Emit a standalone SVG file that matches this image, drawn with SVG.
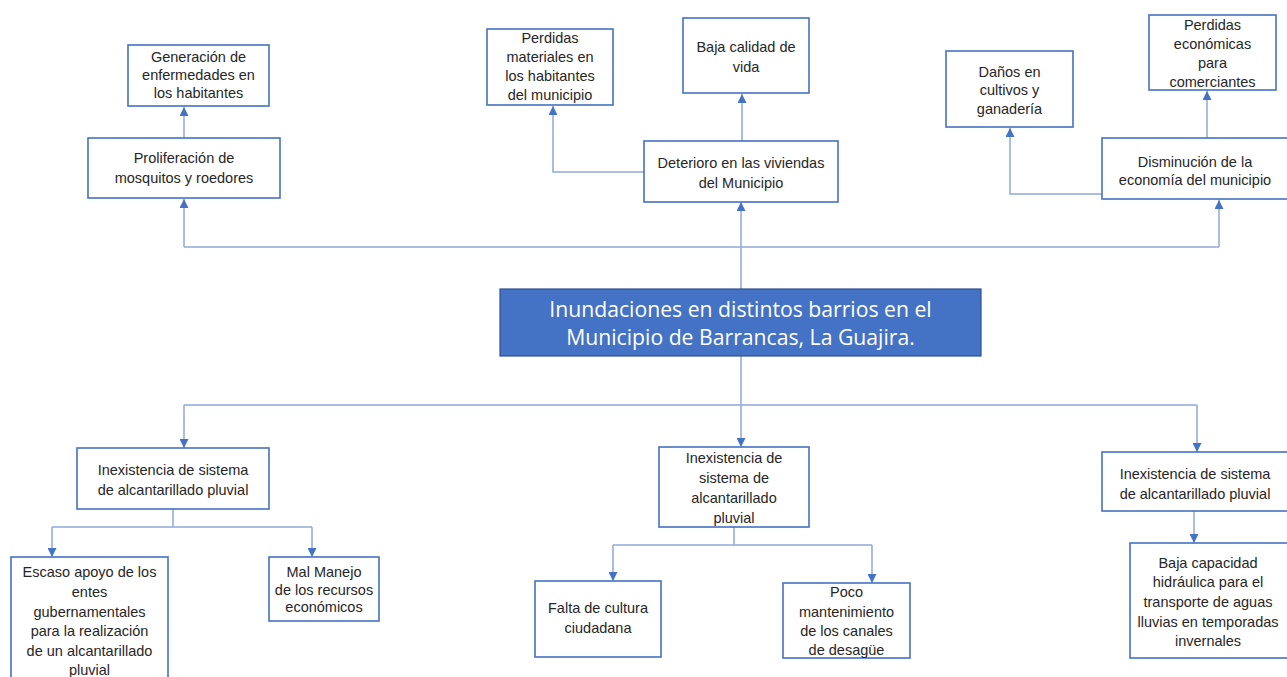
<svg xmlns="http://www.w3.org/2000/svg" width="1287" height="677" viewBox="0 0 1287 677">
<defs>
<marker id="ah" viewBox="0 0 10 10" refX="10" refY="5" markerWidth="9" markerHeight="9" markerUnits="userSpaceOnUse" orient="auto">
<path d="M0,0 L10,5 L0,10 z" fill="#4472C4"/>
</marker>
<style>
.box{fill:#fff;stroke:#4472C4;stroke-width:1.6}
.main{fill:#4472C4;stroke:#2F528F;stroke-width:1.2}
.t{font-family:"Liberation Sans",Arial,sans-serif;font-size:14.5px;fill:#262626;text-anchor:middle}
.tm{font-family:"Open Sans","Liberation Sans",sans-serif;font-size:21.2px;fill:#fff;text-anchor:middle}
.c{fill:none;stroke:#8EA9DB;stroke-width:1.5}
.a{fill:none;stroke:#8EA9DB;stroke-width:1.5;marker-end:url(#ah)}
</style>
</defs>
<rect width="1287" height="677" fill="#fff"/>
<g id="connectors">
<path class="a" d="M741,289 V202"/>
<path class="c" d="M184,247 H1219"/>
<path class="a" d="M184,247 V199"/>
<path class="a" d="M1219,247 V200"/>
<path class="a" d="M184,138 V107"/>
<path class="a" d="M644,172 H553 V106"/>
<path class="a" d="M742,141 V94"/>
<path class="a" d="M1102,194 H1010 V128"/>
<path class="a" d="M1207,138 V91"/>
<path class="a" d="M741,356 V447"/>
<path class="c" d="M184,405 H1197"/>
<path class="a" d="M184,405 V448"/>
<path class="a" d="M1197,405 V452"/>
<path class="c" d="M173,509 V527 M52,527 H312"/>
<path class="a" d="M52,527 V557"/>
<path class="a" d="M312,527 V557"/>
<path class="c" d="M734,527 V545 M613,545 H872"/>
<path class="a" d="M613,545 V581"/>
<path class="a" d="M872,545 V583"/>
<path class="a" d="M1194,511 V543"/>
</g>
<g id="n-main">
<rect class="main" x="500" y="289" width="481" height="67"/>
<text class="tm" x="740.5" y="317">Inundaciones en distintos barrios en el</text>
<text class="tm" x="740.5" y="345">Municipio de Barrancas, La Guajira.</text>
</g>
<g id="n-generacion">
<rect class="box" x="128" y="45" width="141" height="61"/>
<text class="t" x="198.5" y="62">Generación de</text>
<text class="t" x="198.5" y="80">enfermedades en</text>
<text class="t" x="198.5" y="98">los habitantes</text>
</g>
<g id="n-proliferacion">
<rect class="box" x="88" y="138" width="192" height="60"/>
<text class="t" x="184" y="163">Proliferación de</text>
<text class="t" x="184" y="183">mosquitos y roedores</text>
</g>
<g id="n-perdidas-mat">
<rect class="box" x="487" y="29" width="126" height="76"/>
<text class="t" x="550" y="43">Perdidas</text>
<text class="t" x="550" y="62">materiales en</text>
<text class="t" x="550" y="81">los habitantes</text>
<text class="t" x="550" y="100">del municipio</text>
</g>
<g id="n-baja-calidad">
<rect class="box" x="683" y="18" width="126" height="75"/>
<text class="t" x="746" y="52">Baja calidad de</text>
<text class="t" x="746" y="72">vida</text>
</g>
<g id="n-deterioro">
<rect class="box" x="644" y="141" width="194" height="61"/>
<text class="t" x="741" y="168">Deterioro en las viviendas</text>
<text class="t" x="741" y="188">del Municipio</text>
</g>
<g id="n-danos">
<rect class="box" x="946" y="51" width="127" height="76"/>
<text class="t" x="1009.5" y="77">Daños en</text>
<text class="t" x="1009.5" y="95">cultivos y</text>
<text class="t" x="1009.5" y="114">ganadería</text>
</g>
<g id="n-perdidas-eco">
<rect class="box" x="1149" y="15" width="127" height="75"/>
<text class="t" x="1212.5" y="30">Perdidas</text>
<text class="t" x="1212.5" y="49">económicas</text>
<text class="t" x="1212.5" y="68">para</text>
<text class="t" x="1212.5" y="87">comerciantes</text>
</g>
<g id="n-disminucion">
<rect class="box" x="1102" y="138" width="186" height="61"/>
<text class="t" x="1195" y="167">Disminución de la</text>
<text class="t" x="1195" y="185">economía del municipio</text>
</g>
<g id="n-inex-left">
<rect class="box" x="77" y="448" width="192" height="61"/>
<text class="t" x="173" y="475">Inexistencia de sistema</text>
<text class="t" x="173" y="495">de alcantarillado pluvial</text>
</g>
<g id="n-escaso">
<rect class="box" x="11" y="557" width="157" height="130"/>
<text class="t" x="89.5" y="577">Escaso apoyo de los</text>
<text class="t" x="89.5" y="597">entes</text>
<text class="t" x="89.5" y="617">gubernamentales</text>
<text class="t" x="89.5" y="636">para la realización</text>
<text class="t" x="89.5" y="656">de un alcantarillado</text>
<text class="t" x="89.5" y="675">pluvial</text>
</g>
<g id="n-mal-manejo">
<rect class="box" x="269" y="557" width="110" height="64"/>
<text class="t" x="324" y="577">Mal Manejo</text>
<text class="t" x="324" y="595">de los recursos</text>
<text class="t" x="324" y="612">económicos</text>
</g>
<g id="n-inex-mid">
<rect class="box" x="659" y="447" width="150" height="80"/>
<text class="t" x="734" y="463">Inexistencia de</text>
<text class="t" x="734" y="483">sistema de</text>
<text class="t" x="734" y="503">alcantarillado</text>
<text class="t" x="734" y="523">pluvial</text>
</g>
<g id="n-falta">
<rect class="box" x="535" y="581" width="126" height="76"/>
<text class="t" x="598" y="613">Falta de cultura</text>
<text class="t" x="598" y="633">ciudadana</text>
</g>
<g id="n-poco">
<rect class="box" x="783" y="583" width="127" height="75"/>
<text class="t" x="846.5" y="597">Poco</text>
<text class="t" x="846.5" y="617">mantenimiento</text>
<text class="t" x="846.5" y="636">de los canales</text>
<text class="t" x="846.5" y="655">de desagüe</text>
</g>
<g id="n-inex-right">
<rect class="box" x="1102" y="452" width="186" height="59"/>
<text class="t" x="1195" y="479">Inexistencia de sistema</text>
<text class="t" x="1195" y="499">de alcantarillado pluvial</text>
</g>
<g id="n-baja-cap">
<rect class="box" x="1130" y="543" width="158" height="115"/>
<text class="t" x="1208" y="568">Baja capacidad</text>
<text class="t" x="1208" y="587">hidráulica para el</text>
<text class="t" x="1208" y="607">transporte de aguas</text>
<text class="t" x="1208" y="627">lluvias en temporadas</text>
<text class="t" x="1208" y="646">invernales</text>
</g>
</svg>
